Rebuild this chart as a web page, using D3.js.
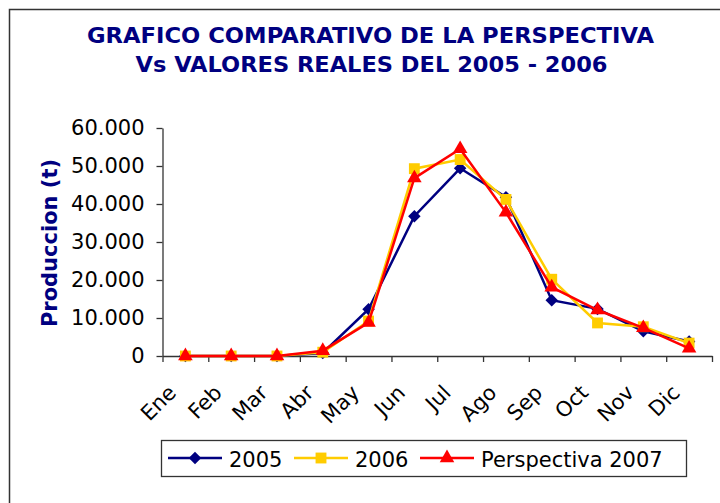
<!DOCTYPE html>
<html>
<head>
<meta charset="utf-8">
<script src="https://cdn.jsdelivr.net/npm/d3@7"></script>
<style>
  body { margin: 0; background: #fff; }
  #chart { width: 720px; height: 503px; }
</style>
</head>
<body>
<div id="chart"></div>
<script>
// data (t)
var months = ["Ene", "Feb", "Mar", "Abr", "May", "Jun", "Jul", "Ago", "Sep", "Oct", "Nov", "Dic"];
var serie2005 = [0, 0, 0, 800, 12300, 36800, 49400, 41800, 14700, 12400, 6500, 3800];
var serie2006 = [0, 0, 0, 1000, 9200, 49300, 51700, 41200, 20200, 8700, 7700, 3400];
var serie2007 = [0, 0, 0, 1400, 8800, 46800, 54500, 37800, 18100, 12100, 7400, 2000];
var seriesNames = ["2005", "2006", "Perspectiva 2007"];
var yTicks = [0, 10000, 20000, 30000, 40000, 50000, 60000];

var W = 720, H = 503;
var plot = {left: 162.5, right: 712, top: 128, bottom: 356};
var font = "'DejaVu Sans', Verdana, sans-serif";

var svg = d3.select("#chart").append("svg")
    .attr("width", W).attr("height", H)
    .style("font-family", font);

// outer frame (cropped at right / bottom like the original)
svg.append("rect")
    .attr("x", 9.5).attr("y", 9.5)
    .attr("width", 760).attr("height", 560)
    .attr("fill", "#fff").attr("stroke", "#333").attr("stroke-width", 1.5);

// title
var title = svg.append("text")
    .attr("text-anchor", "middle")
    .attr("fill", "#000080")
    .style("font-weight", "bold")
    .style("font-size", "22px");
title.append("tspan").attr("x", 370.5).attr("y", 42.5).text("GRAFICO COMPARATIVO DE LA PERSPECTIVA");
title.append("tspan").attr("x", 371.5).attr("y", 72).text("Vs VALORES REALES DEL 2005 - 2006");
// fit to the width of the original title lines
var titleW = [567, 472];
title.selectAll("tspan").each(function(d, i) {
    d3.select(this).attr("textLength", titleW[i]).attr("lengthAdjust", "spacingAndGlyphs");
});

var x = d3.scaleBand()
    .domain(months)
    .range([plot.left, plot.right])
    .padding(0);

var xEdge = d3.scaleLinear()
    .domain([0, months.length])
    .range([plot.left, plot.right]);

var y = d3.scaleLinear()
    .domain([0, 60000])
    .range([plot.bottom, plot.top]);

function cx(d, i) { return x(months[i]) + x.bandwidth() / 2; }

// y axis
var yAxis = svg.append("g")
    .attr("class", "axis")
    .attr("transform", "translate(" + plot.left + ",0)")
    .call(d3.axisLeft(y)
        .tickValues(yTicks)
        .tickSize(6)
        .tickPadding(12)
        .tickSizeOuter(0)
        .tickFormat(function(d) { return d === 0 ? "0" : d3.format(",")(d).replace(/,/g, "."); }));
yAxis.selectAll("text").style("font-size", "21px").style("font-family", font).attr("fill", "#000");

// x axis: tick marks on category edges
var xAxis = svg.append("g")
    .attr("class", "axis")
    .attr("transform", "translate(0," + plot.bottom + ")")
    .call(d3.axisBottom(xEdge)
        .tickValues(d3.range(months.length + 1))
        .tickSize(6)
        .tickSizeOuter(0)
        .tickFormat(""));

svg.selectAll(".axis path, .axis line").attr("stroke", "#333").attr("stroke-width", 1.3);

// rotated month labels
svg.append("g").selectAll("text")
    .data(months)
    .enter().append("text")
    .attr("transform", function(d) {
        return "translate(" + (x(d) + x.bandwidth() / 2 - 8) + "," + 394 + ") rotate(-45)";
    })
    .attr("text-anchor", "end")
    .style("font-size", "21px")
    .attr("fill", "#000")
    .text(function(d) { return d; });

// y label
svg.append("text")
    .attr("transform", "translate(57,243) rotate(-90)")
    .attr("text-anchor", "middle")
    .attr("fill", "#000080")
    .style("font-weight", "bold")
    .style("font-size", "21px")
    .text("Produccion (t)");

var series = [
    {name: seriesNames[0], values: serie2005, color: "#000080", symbol: d3.symbolSquare, size: 78, rot: 45},
    {name: seriesNames[1], values: serie2006, color: "#FFCC00", symbol: d3.symbolSquare, size: 118, rot: 0},
    {name: seriesNames[2], values: serie2007, color: "#FF0000", symbol: d3.symbolTriangle, size: 92, rot: 0}
];

var line = d3.line()
    .x(cx)
    .y(function(d) { return y(d); });

series.forEach(function(s) {
    var g = svg.append("g");
    g.append("path")
        .datum(s.values)
        .attr("fill", "none")
        .attr("stroke", s.color)
        .attr("stroke-width", 2.5)
        .attr("d", line);
    g.selectAll("path.mark")
        .data(s.values)
        .enter().append("path")
        .attr("class", "mark")
        .attr("transform", function(d, i) {
            return "translate(" + cx(d, i) + "," + y(d) + ") rotate(" + s.rot + ")";
        })
        .attr("d", d3.symbol().type(s.symbol).size(s.size))
        .attr("fill", s.color);
});

// legend
var legend = svg.append("g");
legend.append("rect")
    .attr("x", 161.5).attr("y", 440.5)
    .attr("width", 525).attr("height", 36)
    .attr("fill", "#fff").attr("stroke", "#333").attr("stroke-width", 1.3);

var legX = [168, 294, 420];
series.forEach(function(s, i) {
    var lg = legend.append("g").attr("transform", "translate(" + legX[i] + ",458)");
    lg.append("line")
        .attr("x1", 0).attr("x2", 54)
        .attr("stroke", s.color).attr("stroke-width", 2.5);
    lg.append("path")
        .attr("transform", "translate(27,0) rotate(" + s.rot + ")")
        .attr("d", d3.symbol().type(s.symbol).size(s.size))
        .attr("fill", s.color);
    lg.append("text")
        .attr("x", 61).attr("y", 8.5)
        .style("font-size", "21px")
        .attr("fill", "#000")
        .text(s.name);
});
</script>
</body>
</html>
